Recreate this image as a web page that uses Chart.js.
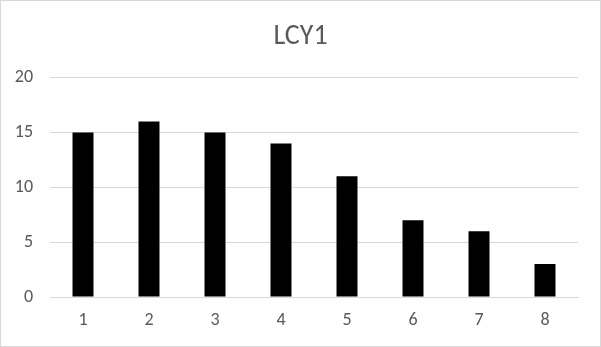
<!DOCTYPE html>
<html>
<head>
<meta charset="utf-8">
<script src="https://cdn.jsdelivr.net/npm/chart.js@4/dist/chart.umd.min.js"></script>
<style>
  html, body { margin: 0; padding: 0; background: #fff; }
  #wrap { width: 601px; height: 347px; position: relative; }
</style>
</head>
<body>
<div id="wrap"><canvas id="chart"></canvas></div>
<script>
// ==================== DATA ====================
const categories = ['1', '2', '3', '4', '5', '6', '7', '8'];
const lcy1Values = [15, 16, 15, 14, 11, 7, 6, 3];
const yTicks = [0, 5, 10, 15, 20];

const textColor = '#595959';
const gridColor = '#d9d9d9';
const fontFamily = 'Carlito, Calibri, "Open Sans", sans-serif';

// white background + thin frame like the Excel chart border
const framePlugin = {
  id: 'frame',
  beforeDraw(chart) {
    const { ctx, width, height } = chart;
    ctx.save();
    ctx.fillStyle = '#fff';
    ctx.fillRect(0, 0, width, height);
    ctx.strokeStyle = gridColor;
    ctx.lineWidth = 1;
    ctx.strokeRect(0.5, 0.5, width - 1, height - 1);
    ctx.restore();
  }
};

const ctx = document.getElementById('chart').getContext('2d');
new Chart(ctx, {
  type: 'bar',
  data: {
    labels: categories,
    datasets: [{
      label: 'LCY1',
      data: lcy1Values,
      backgroundColor: '#000',
      borderWidth: 0,
      barPercentage: 0.318,
      categoryPercentage: 1
    }]
  },
  options: {
    responsive: true,
    maintainAspectRatio: false,
    animation: false,
    layout: { padding: 0 },
    plugins: {
      legend: { display: false },
      tooltip: { enabled: false },
      title: {
        display: true,
        text: 'LCY1',
        color: textColor,
        font: { family: fontFamily, size: 28, weight: 'normal' },
        padding: { top: 20, bottom: 24 }
      }
    },
    scales: {
      x: {
        afterFit(axis) { axis.height = 50; },
        grid: { display: false, drawTicks: false },
        border: { display: true, color: gridColor },
        ticks: {
          color: textColor,
          font: { family: fontFamily, size: 18 },
          padding: 13
        }
      },
      y: {
        min: 0,
        max: 20,
        afterFit(axis) { axis.width = 50; },
        afterBuildTicks(axis) { axis.ticks = yTicks.map(v => ({ value: v })); },
        grid: { color: gridColor, drawTicks: false },
        border: { display: false },
        ticks: {
          color: textColor,
          font: { family: fontFamily, size: 18 },
          padding: 17
        }
      },
      // empty right-hand spacer so the title stays centred on the canvas
      spacer: {
        type: 'linear',
        position: 'right',
        afterFit(axis) { axis.width = 23; },
        grid: { display: false },
        border: { display: false },
        ticks: { display: false }
      }
    }
  },
  plugins: [framePlugin]
});
</script>
</body>
</html>
